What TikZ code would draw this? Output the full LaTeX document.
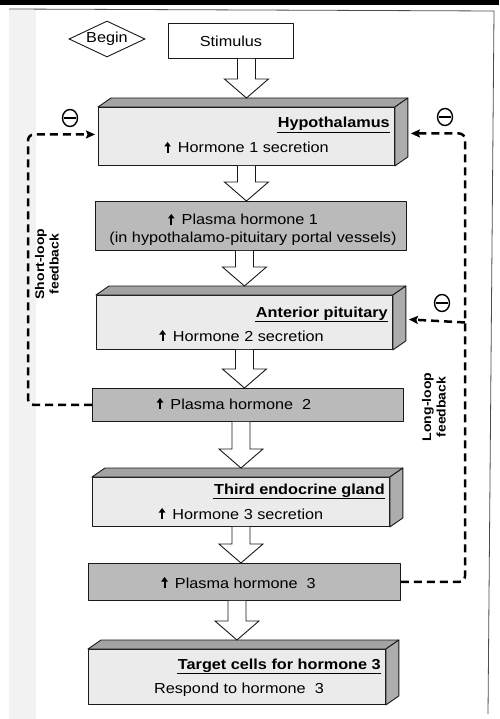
\documentclass[tikz,border=0pt]{standalone}
\usepackage{fontspec}
\setmainfont{Liberation Sans}[FakeStretch=1.12]
\usetikzlibrary{calc,arrows.meta,shapes.geometric}
\definecolor{frontc}{gray}{0.92}
\definecolor{topc}{gray}{0.64}
\definecolor{sidec}{gray}{0.68}
\definecolor{plasmac}{gray}{0.73}
\newcommand\upa{\tikz[baseline=0pt]{\fill (-1pt,0pt) rectangle (1pt,7.5pt); \fill (-3.4pt,6.5pt) -- (3.4pt,6.5pt) -- (0pt,11pt) -- cycle;}\hspace{7pt}}
\tikzset{
  txt/.style={inner sep=0pt, font=\fontsize{14.5}{17}\selectfont},
  ttl/.style={inner sep=0pt, font=\fontsize{14.5}{17}\selectfont\bfseries},
  lbl/.style={inner sep=0pt, align=center, font=\fontsize{12.5}{14.5}\selectfont\bfseries},
  face/.style={draw=black!90, line width=0.9pt, line join=round},
  flat/.style={face, anchor=north west, fill=#1, inner sep=0pt},
  hollow/.style={draw=black!90, fill=white, line width=0.9pt, line join=miter},
  uline/.style={line width=0.9pt},
  fb/.style={line width=2.5pt, dash pattern=on 8pt off 5pt, rounded corners=6pt,
    -{Stealth[length=9pt,width=8pt,inset=1.5pt]}},
  fbplain/.style={line width=2.5pt, dash pattern=on 8pt off 5pt,
    -{Stealth[length=9pt,width=8pt,inset=1.5pt]}},
  inhib/.style={draw, ellipse, line width=1.4pt, minimum width=15pt, minimum height=17pt, inner sep=0pt,
    path picture={\draw[line width=1.4pt] ($(path picture bounding box.west)+(1.5pt,0)$) -- ($(path picture bounding box.east)+(-1.5pt,0)$);}},
  startd/.style={draw=black!90, line width=0.9pt, diamond, aspect=2.1, minimum width=76pt, minimum height=36pt, inner sep=0pt, font=\fontsize{14.5}{17}\selectfont}
}
\newcommand\flatbox[6]{%
  \node[flat=#6, minimum width={(#4-#2)*1pt}, minimum height={(#5-#3)*1pt}] (#1) at (#2,#3) {};}
\newcommand\cubebox[5]{%
  \node[flat=frontc, minimum width={(#4-#2)*1pt}, minimum height={(#5-#3)*1pt}] (#1) at (#2,#3) {};
  \draw[face, fill=topc] (#1.north west) -- ++(13,-9) -- ($(#1.north east)+(13,-9)$) -- (#1.north east) -- cycle;
  \draw[face, fill=sidec] (#1.north east) -- ++(13,-9) -- ($(#1.south east)+(13,-9)$) -- (#1.south east) -- cycle;}
\newcommand\harrow[4]{%
  \coordinate (hs) at (#1.south -| #3.north);
  \coordinate (ht) at (#2.north -| #3.north);
  \draw[hollow] ($(hs)+(-9,0)$) -- ($(ht)+(-9,{-#4-19})$) -- ($(ht)+(-22,{-#4-19})$) -- ($(ht)+(0,{-#4})$)
     -- ($(ht)+(22,{-#4-19})$) -- ($(ht)+(9,{-#4-19})$) -- ($(hs)+(9,0)$);}
\begin{document}
\begin{tikzpicture}[x=1pt,y=-1pt]
\useasboundingbox (0,0) rectangle (499,719);
% page edges
\fill[black!5] (9,10) rectangle (36,719);
\draw[line width=5pt] (0,2.5) -- (499,2.5);
\draw[line width=0.8pt, black!70] (9,9) -- (494,11) -- (488,714);

% boxes
\node[startd] (begin) at (107,39) {Begin};
\flatbox{stim}{168}{23}{293}{58}{white}
\cubebox{hyp}{98}{107}{394}{165}
\flatbox{p1}{95}{201}{406}{250}{plasmac}
\cubebox{ap}{96}{295}{392}{349}
\flatbox{p2}{92}{388}{403}{421}{plasmac}
\cubebox{teg}{92}{477}{389}{526}
\flatbox{p3}{88}{563}{400}{600}{plasmac}
\cubebox{tgt}{88}{649}{385}{704}

% texts
\node[txt, anchor=base] (stimT) at ($(stim.north)+(0,24)$) {Stimulus};

\node[ttl, anchor=base east] (hypT) at ($(hyp.north east)+(-5,21)$) {Hypothalamus};
\draw[uline] ($(hypT.base west)+(-1,4)$) -- ($(hypT.base east)+(0,4)$);
\node[txt, anchor=base] (hypL) at ($(hyp.north)+(0,46)$) {\upa Hormone 1 secretion};

\node[txt, anchor=base] (p1a) at ($(p1.north)+(-8,24)$) {\upa Plasma hormone 1};
\node[txt, anchor=base] (p1b) at ($(p1.north)+(2,41)$) {(in hypothalamo-pituitary portal vessels)};

\node[ttl, anchor=base east] (apT) at ($(ap.north east)+(-5,22)$) {Anterior pituitary};
\draw[uline] ($(apT.base west)+(-1,4)$) -- ($(apT.base east)+(0,4)$);
\node[txt, anchor=base] (apL) at ($(ap.north)+(-3,46)$) {\upa Hormone 2 secretion};

\node[txt, anchor=base] (p2a) at ($(p2.north)+(-14,21)$) {\upa Plasma hormone\ \ 2};

\node[ttl, anchor=base east] (tegT) at ($(teg.north east)+(-5,17)$) {Third endocrine gland};
\draw[uline] ($(tegT.base west)+(-1,4)$) -- ($(tegT.base east)+(0,4)$);
\node[txt, anchor=base] (tegL) at ($(teg.north)+(0,42)$) {\upa Hormone 3 secretion};

\node[txt, anchor=base] (p3a) at ($(p3.north)+(-6,25)$) {\upa Plasma hormone\ \ 3};

\node[ttl, anchor=base east] (tgtT) at ($(tgt.north east)+(-5,20)$) {Target cells for hormone 3};
\draw[uline] ($(tgtT.base west)+(-1,4)$) -- ($(tgtT.base east)+(0,4)$);
\node[txt, anchor=base] (tgtL) at ($(tgt.north)+(2,44)$) {Respond to hormone\ \ 3};

% block arrows
\harrow{stim}{hyp}{hyp}{9}
\harrow{hyp}{p1}{hyp}{0}
\harrow{p1}{ap}{ap}{9}
\harrow{ap}{p2}{ap}{0}
\harrow{p2}{teg}{teg}{9}
\harrow{teg}{p3}{teg}{0}
\harrow{p3}{tgt}{tgt}{9}

% feedback loops
\coordinate (slc) at (28,270);
\coordinate (llc) at (465,400);
\draw[fb] (p2.west) -| (slc) |- ($(hyp.west)+(-3,-2)$);
\draw[fb] (p3.east) -| (llc) |- ($(hyp.east)+(16,-3)$);
\draw[fbplain] (ap.east -| llc) -- ($(ap.east)+(16,-3)$);

\node[inhib] (m1) at (70,118) {};
\node[inhib] (m2) at (445,117) {};
\node[inhib] (m3) at (442,303) {};

\node[lbl, rotate=90] (slL) at (47,264) {Short-loop\\feedback};
\node[lbl, rotate=90] (llL) at (434,407) {Long-loop\\feedback};
\end{tikzpicture}
\end{document}
